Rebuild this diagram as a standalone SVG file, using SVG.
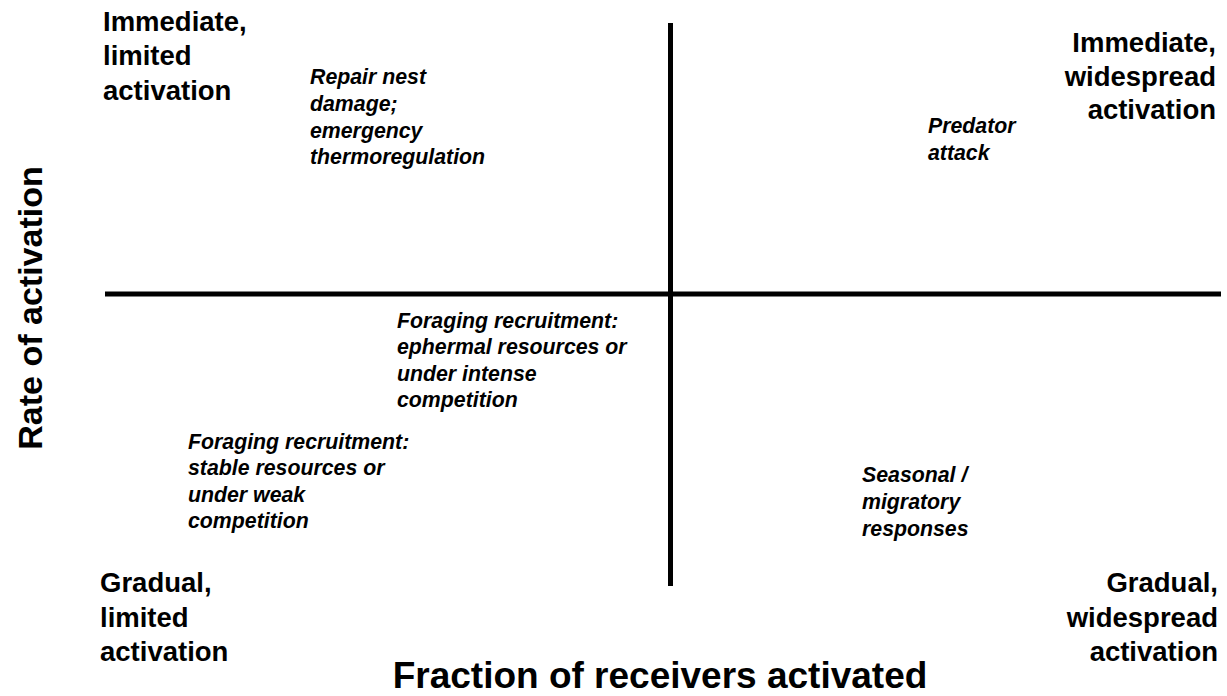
<svg xmlns="http://www.w3.org/2000/svg" width="1227" height="696" viewBox="0 0 1227 696">
<style>
.corner{font-family:"Liberation Sans",Arial,sans-serif;font-weight:bold;font-size:27.5px;fill:#000}
.ex{font-family:"Liberation Sans",Arial,sans-serif;font-weight:bold;font-style:italic;font-size:21.3px;fill:#000}
.axis{font-family:"Liberation Sans",Arial,sans-serif;font-weight:bold;font-size:37px;fill:#000}
.r{text-anchor:end}
.ax{stroke:#000;stroke-width:5;fill:none}
</style>
<rect width="1227" height="696" fill="#fff"/>
<g id="axes">
<line class="ax" x1="670.5" y1="23" x2="670.5" y2="586"/>
<line class="ax" x1="105" y1="294" x2="1221" y2="294"/>
</g>
<g id="axis-titles">
<text class="axis" x="660" y="688" text-anchor="middle">Fraction of receivers activated</text>
<text class="axis" transform="translate(42,308) rotate(-90)" text-anchor="middle" style="font-size:34px">Rate of activation</text>
</g>
<g id="corner-tl"><text class="corner"><tspan x="103" y="31">Immediate,</tspan><tspan x="103" y="65">limited</tspan><tspan x="103" y="100">activation</tspan></text></g>
<g id="corner-tr"><text class="corner r"><tspan x="1216" y="52">Immediate,</tspan><tspan x="1216" y="86">widespread</tspan><tspan x="1216" y="119">activation</tspan></text></g>
<g id="corner-bl"><text class="corner"><tspan x="100" y="592">Gradual,</tspan><tspan x="100" y="627">limited</tspan><tspan x="100" y="661">activation</tspan></text></g>
<g id="corner-br"><text class="corner r"><tspan x="1218" y="592">Gradual,</tspan><tspan x="1218" y="627">widespread</tspan><tspan x="1218" y="661">activation</tspan></text></g>
<g id="repair"><text class="ex"><tspan x="310" y="84">Repair nest</tspan><tspan x="310" y="111">damage;</tspan><tspan x="310" y="138">emergency</tspan><tspan x="310" y="164">thermoregulation</tspan></text></g>
<g id="predator"><text class="ex"><tspan x="928" y="133">Predator</tspan><tspan x="928" y="160">attack</tspan></text></g>
<g id="foraging-ephemeral"><text class="ex"><tspan x="397" y="328">Foraging recruitment:</tspan><tspan x="397" y="354">ephermal resources or</tspan><tspan x="397" y="381">under intense</tspan><tspan x="397" y="407">competition</tspan></text></g>
<g id="foraging-stable"><text class="ex"><tspan x="188" y="449">Foraging recruitment:</tspan><tspan x="188" y="475">stable resources or</tspan><tspan x="188" y="502">under weak</tspan><tspan x="188" y="528">competition</tspan></text></g>
<g id="seasonal"><text class="ex"><tspan x="862" y="482">Seasonal /</tspan><tspan x="862" y="509">migratory</tspan><tspan x="862" y="536">responses</tspan></text></g>
</svg>
